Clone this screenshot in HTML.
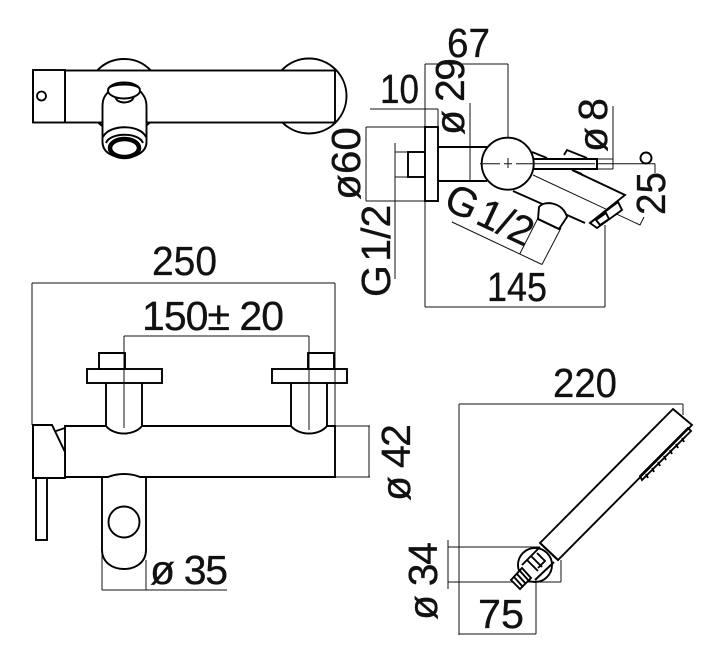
<!DOCTYPE html>
<html>
<head>
<meta charset="utf-8">
<style>
html,body{margin:0;padding:0;background:#fff;width:720px;height:665px;overflow:hidden}
svg{display:block}
text{font-family:"Liberation Sans",sans-serif;font-size:41px;fill:#111;stroke:#111;stroke-width:.3}
.g{word-spacing:-8px}
.m{fill:none;stroke:#000;stroke-width:1.9}
.w{fill:#fff;stroke:#000;stroke-width:1.9}
.d{fill:none;stroke:#111;stroke-width:1}
</style>
</head>
<body>
<svg width="720" height="665" viewBox="0 0 720 665" xmlns="http://www.w3.org/2000/svg">

<!-- TOP VIEW -->
<circle class="w" cx="124" cy="96" r="37"/>
<circle class="w" cx="309" cy="96" r="37.5"/>
<rect class="w" x="65" y="70.5" width="270" height="52"/>
<rect class="w" x="33" y="70" width="32" height="52.5"/>
<path class="m" d="M33 70V122.5" stroke-width="2.4"/>
<circle cx="41.5" cy="96" r="4.5" fill="#fff" stroke="#000" stroke-width="1.8"/>
<path class="w" d="M102.500 107C102.500 98 105 96 108 92H141C144 96 146.500 99 146.500 107V142C146.500 152 136 157.500 124.500 157.500C112 157.500 102.500 152 102.500 142Z"/>
<path class="w" d="M115 96C116 100 118 102 124 102.500C131 102 133 100 134 96Z"/>
<ellipse class="w" cx="124" cy="90.500" rx="16" ry="8"/>
<path class="m" d="M108 89C112 83 136 83 140 89"/>
<path class="m" d="M103 137C109 124 140 124 146 137"/>
<path class="m" d="M106 143C110 132 139 132 143 143"/>
<ellipse cx="124.500" cy="148" rx="14.500" ry="9" fill="#fff" stroke="#000" stroke-width="4.500"/>

<!-- SIDE VIEW -->
<path class="d" d="M425 64H508M425 64V307M508 64V158M508 168V190M370 109H438M438 109V127M366 127H425M366 127V201M366 201H425M470 103V181M395 143V279M395 152H408M395 177H408M480 163.700H655M613 106V169M597 159H613M597 169H613M655 163.700V173M425 307H605M605 225V307M452 222L542 264.500M520 253.500L538 218M542 264.500L561 228"/>
<rect class="w" x="408" y="152" width="17" height="25"/>
<rect class="w" x="425" y="127" width="13" height="74"/>
<path class="m" d="M438 147H487M438 181H487"/>
<path class="m" d="M532 152L547 158"/>
<path class="w" d="M564 155L567 150L587 158"/>
<path class="m" d="M572 170L582 174" stroke-width="2.800"/>
<path d="M513 191L585 223L590 223L625 195L572 170L533 160Z" fill="#fff"/>
<path class="m" d="M513 191L585 223M590 223L625 195L572 170"/>
<path class="d" d="M533 175L640 225L644 217"/>
<path class="w" d="M590 223L597 228L622 210L618 202Z"/>
<path class="w" d="M596 220L600 225L609 219L606 213Z" stroke-width="1.100"/>
<path class="w" d="M539 207C544 200 563 202 567 217L559 229L538 219Z"/>
<path class="m" d="M538 219L559 229" stroke-width="2.800"/>
<path class="w" d="M533 159H597V169H533Z"/>
<path class="m" d="M597 158V170" stroke-width="2.200"/>
<circle class="w" cx="507.700" cy="163.700" r="26"/>
<path class="d" d="M481 163.700H500M504 163.700H512M516 163.700H595M508 158V168"/>

<!-- FRONT VIEW -->
<path class="d" d="M32 283H335M32 283V425M335 283V426M124 336H309M124 336V428M309 336V430M335 426H370M335 477H370M369 426V477M102 477V590M146 560V590M102 590H227"/>
<rect class="m" x="99" y="353" width="26" height="16"/>
<rect class="m" x="308" y="353" width="26" height="16"/>
<path class="m" d="M99 353H125M308 353H334" stroke-width="2.400"/>
<rect class="m" x="87" y="369" width="75" height="14"/>
<rect class="m" x="272" y="369" width="75" height="14"/>
<path class="m" d="M106 383V426M142 383V426M291 383V426M327 383V426"/>
<path class="w" d="M65 426H106C114 436 134 436 142 426H291C299 436 319 436 327 426H335V477H140C130 473 118 473 108 477H65Z"/>
<path class="d" d="M124 369V383M124 383V428M309 369V430"/>
<path class="m" d="M146 477V550C146 562 136 569 124 569C112 569 102 562 102 550V477"/>
<circle class="m" cx="124" cy="522" r="15.500"/>
<rect class="w" x="36" y="478" width="11" height="62"/>
<path class="w" d="M33 425H52L65 452V478H33Z"/>
<path class="m" d="M33 425V478" stroke-width="2.400"/>
<path class="m" d="M56 431L65 428"/>

<!-- HAND SHOWER -->
<path class="d" d="M459 404H683M459 404V635M683 404V415M448 540V589M448 547H540M448 582H561M561 560V582M459 634H536M536 580V634" />
<circle class="m" cx="535" cy="565" r="17" stroke-width="1.200"/>
<path class="w" d="M540 543L673 409L692 425L558 560Z"/>
<path class="m" d="M540 543L558 560" stroke-width="3"/>
<path class="m" d="M640 476L688 428L691 431L642 480Z" stroke-width="1"/>
<path class="m" d="M646 474L648 478M652 468L654 472M658 462L660 466M664 456L666 460M670 450L672 454M676 444L678 448M682 438L684 442" stroke-width="1.200"/>
<path class="m" d="M540 547L522 565M554 562L535 580" stroke-width="1.800"/>
<path class="m" d="M527 560L538 571M531 556L542 567M537 553L545 561L538 568" stroke-width="1.800"/>
<path class="w" d="M522 568L531 578L520 589L511 580Z"/>
<path class="m" d="M514 577L523 587M517 574L526 584M520 571L529 581" stroke-width="1.800"/>

<!-- LABELS -->
<text x="447" y="57" textLength="43" lengthAdjust="spacingAndGlyphs">67</text>
<text x="380" y="103" textLength="39" lengthAdjust="spacingAndGlyphs">10</text>
<text transform="translate(464 135) rotate(-90)" textLength="77" lengthAdjust="spacing">ø 29</text>
<text transform="translate(360 200) rotate(-90)" textLength="73" lengthAdjust="spacingAndGlyphs">ø60</text>
<text class="g" transform="translate(390 297) rotate(-90)">G 1/2</text>
<text transform="translate(607 152) rotate(-90)" textLength="54" lengthAdjust="spacing">ø 8</text>
<text transform="translate(665 215) rotate(-90)" textLength="43" lengthAdjust="spacingAndGlyphs">25</text>
<circle class="m" cx="646" cy="158" r="5.500" stroke-width="1.300"/>
<text class="g" transform="translate(442 208) rotate(25)">G 1/2</text>
<text x="487" y="301" textLength="60" lengthAdjust="spacingAndGlyphs">145</text>
<text x="152" y="275" textLength="65" lengthAdjust="spacingAndGlyphs">250</text>
<text x="142" y="330" textLength="142" lengthAdjust="spacing">150± 20</text>
<text transform="translate(410 501) rotate(-90)" textLength="77" lengthAdjust="spacing">ø 42</text>
<text x="150" y="584" textLength="78" lengthAdjust="spacing">ø 35</text>
<text x="553" y="397" textLength="64" lengthAdjust="spacingAndGlyphs">220</text>
<text transform="translate(437 620) rotate(-90)" textLength="78" lengthAdjust="spacing">ø 34</text>
<text x="478" y="628" textLength="46" lengthAdjust="spacingAndGlyphs">75</text>
</svg>
</body>
</html>
